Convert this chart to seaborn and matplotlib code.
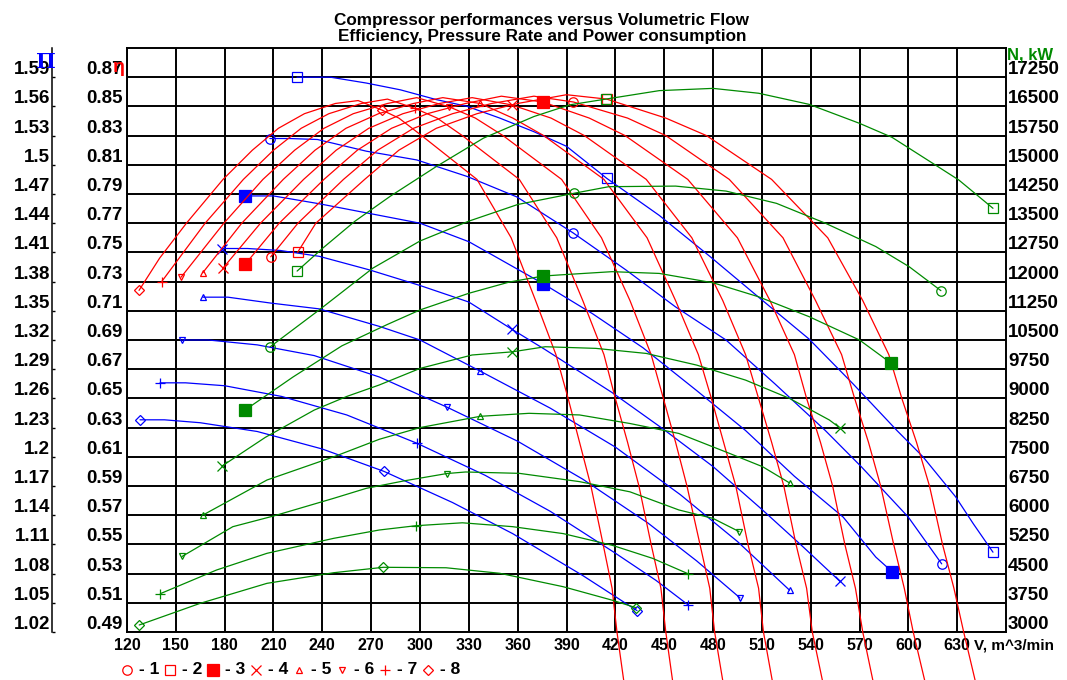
import numpy as np
import pandas as pd
import matplotlib
matplotlib.use("Agg")
import matplotlib.pyplot as plt
from matplotlib.lines import Line2D
import matplotlib.transforms as mtransforms
import seaborn as sns

# ---------------------------------------------------------------- data
CURVE_IDS = [1, 2, 3, 4, 5, 6, 7, 8]
DESIGN_V = [394.2, 414.7, 375.5, 356.5, 337.0, 317.0, 297.5, 277.2]

# Pressure ratio (blue)
PI_V1 = [207.8, 220, 237, 267, 298, 329, 359.5, 394.1, 426.5, 457, 488, 518, 549, 571, 600, 620.5]
PI_1 = [1.527, 1.527, 1.526, 1.514, 1.505, 1.488, 1.467, 1.430, 1.392, 1.354, 1.320, 1.275, 1.227, 1.190, 1.138, 1.090]
PI_V2 = [224.4, 245, 267, 288, 310, 329, 349, 370, 390, 414.8, 447, 478, 508, 539, 566, 593, 609, 629, 640, 652]
PI_2 = [1.590, 1.590, 1.584, 1.577, 1.567, 1.560, 1.548, 1.534, 1.519, 1.486, 1.448, 1.406, 1.364, 1.321, 1.275, 1.227, 1.200, 1.159, 1.131, 1.102]
PI_V3 = [192.5, 210, 238, 269, 300, 330, 375.5, 406, 437, 470, 500, 530, 560, 580, 590]
PI_3 = [1.468, 1.468, 1.460, 1.450, 1.440, 1.421, 1.378, 1.347, 1.312, 1.268, 1.227, 1.180, 1.138, 1.097, 1.082]
PI_V4 = [178.4, 194, 214, 238, 269, 300, 330, 356.5, 377, 418, 449, 480, 510, 535, 558]
PI_4 = [1.414, 1.414, 1.412, 1.406, 1.392, 1.376, 1.359, 1.331, 1.310, 1.266, 1.229, 1.190, 1.146, 1.108, 1.072]
PI_V5 = [166.7, 182, 208, 238, 275, 300, 337, 380, 420, 460, 495, 527]
PI_5 = [1.364, 1.364, 1.358, 1.352, 1.334, 1.320, 1.288, 1.250, 1.210, 1.161, 1.113, 1.063]
PI_V6 = [153.8, 170, 200, 235, 275, 316.6, 360, 400, 440, 470, 496.6]
PI_6 = [1.320, 1.320, 1.315, 1.304, 1.282, 1.251, 1.216, 1.177, 1.132, 1.093, 1.055]
PI_V7 = [140.3, 156, 180, 215, 255, 298, 340, 380, 420, 445, 464.6]
PI_7 = [1.276, 1.276, 1.273, 1.262, 1.243, 1.214, 1.181, 1.144, 1.101, 1.073, 1.048]
PI_V8 = [128, 143, 165, 200, 240, 277.9, 320, 357, 400, 433.3]
PI_8 = [1.238, 1.238, 1.235, 1.226, 1.208, 1.185, 1.153, 1.121, 1.078, 1.042]

# Efficiency (red)
EF_V1 = [208.3, 225, 253, 274, 296, 320, 344, 370, 394.3, 427.5, 451, 490, 523, 543, 559, 567, 575.5, 583, 591, 597.5, 603, 611.5]
EF_1 = [0.747, 0.77, 0.80, 0.82, 0.835, 0.845, 0.852, 0.857, 0.853, 0.842, 0.83, 0.80, 0.76, 0.717, 0.68, 0.65, 0.62, 0.59, 0.55, 0.52, 0.49, 0.45]
EF_V2 = [224.8, 236, 266, 287, 310, 335, 360, 390, 414.7, 451, 476, 516, 550.5, 572, 588, 596, 605, 613, 621, 628, 634, 642.5]
EF_2 = [0.750, 0.77, 0.80, 0.82, 0.835, 0.845, 0.852, 0.858, 0.855, 0.842, 0.83, 0.80, 0.76, 0.717, 0.68, 0.65, 0.62, 0.59, 0.55, 0.52, 0.49, 0.45]
EF_V3 = [192.7, 213.5, 241, 261.5, 282.5, 304.5, 328, 350, 375.5, 404, 426, 464.5, 495, 515, 530, 537.5, 546, 553.5, 561, 567.5, 572, 579.5]
EF_3 = [0.742, 0.77, 0.80, 0.82, 0.835, 0.845, 0.852, 0.857, 0.853, 0.842, 0.83, 0.80, 0.76, 0.717, 0.68, 0.65, 0.62, 0.59, 0.55, 0.52, 0.49, 0.45]
EF_V4 = [178.8, 202, 228.5, 248.5, 268.5, 289.5, 312, 332, 356.4, 380.5, 401, 439, 467, 486, 500, 508, 516, 523.5, 531, 537.5, 541, 548.5]
EF_4 = [0.739, 0.77, 0.80, 0.82, 0.835, 0.845, 0.852, 0.856, 0.851, 0.842, 0.83, 0.80, 0.76, 0.717, 0.68, 0.65, 0.62, 0.59, 0.55, 0.52, 0.49, 0.45]
EF_V5 = [166.5, 190.5, 216, 235.5, 254.5, 274.5, 296, 314, 337, 357, 376, 413, 439.5, 457, 471, 479, 486.5, 494, 501.5, 508, 511, 517.5]
EF_5 = [0.736, 0.77, 0.80, 0.82, 0.835, 0.845, 0.852, 0.856, 0.852, 0.842, 0.83, 0.80, 0.76, 0.717, 0.68, 0.65, 0.62, 0.59, 0.55, 0.52, 0.49, 0.45]
EF_V6 = [153.2, 179.5, 203.5, 223, 241, 259, 280, 298, 318, 334, 351, 387, 411.5, 429, 442, 449.5, 457, 464, 472, 478, 481, 487]
EF_6 = [0.733, 0.77, 0.80, 0.82, 0.835, 0.845, 0.852, 0.856, 0.8497, 0.842, 0.83, 0.80, 0.76, 0.717, 0.68, 0.65, 0.62, 0.59, 0.55, 0.52, 0.49, 0.45]
EF_V7 = [141.3, 168, 191.5, 210, 227, 244, 264, 280, 297, 310.5, 326, 361, 384, 400, 413, 420, 427.5, 434.5, 442, 448, 451, 456]
EF_7 = [0.730, 0.77, 0.80, 0.82, 0.835, 0.845, 0.852, 0.855, 0.8486, 0.842, 0.83, 0.80, 0.76, 0.717, 0.68, 0.65, 0.62, 0.59, 0.55, 0.52, 0.49, 0.45]
EF_V8 = [127.4, 140, 156.5, 179, 197, 213, 229, 248, 262, 276.6, 287, 301, 335, 356, 371, 383.5, 391, 398, 405, 412.5, 418, 421, 426]
EF_8 = [0.724, 0.746, 0.77, 0.80, 0.82, 0.835, 0.845, 0.852, 0.854, 0.8475, 0.842, 0.83, 0.80, 0.76, 0.717, 0.68, 0.65, 0.62, 0.59, 0.55, 0.52, 0.49, 0.45]

# Power consumption (green)
N_V1 = [207.8, 238, 271, 300, 330, 360, 394.5, 416, 457, 488, 519, 549, 580, 600.5, 620]
N_1 = [10320, 11270, 12345, 13043, 13553, 13980, 14268, 14438, 14453, 14325, 14010, 13500, 12900, 12383, 11768]
N_V2 = [224.5, 240, 260, 282, 310, 339, 370, 392, 414.5, 447, 480, 508, 539, 570, 590, 615, 631, 652]
N_2 = [12270, 12850, 13550, 14200, 14955, 15685, 16240, 16540, 16690, 16905, 16963, 16838, 16553, 16065, 15705, 15038, 14610, 13883]
N_V3 = [192.5, 222, 252, 280, 300, 330, 355, 375.5, 386, 418, 447, 480, 508, 539, 570, 589.3]
N_3 = [8700, 9550, 10350, 10900, 11272, 11700, 11990, 12142, 12172, 12255, 12210, 11970, 11610, 11100, 10500, 9908]
N_V4 = [178.4, 205, 235, 255, 275, 300, 332, 356.5, 377, 408, 439, 470, 500, 527, 551.5, 558]
N_4 = [7263, 8000, 8700, 9050, 9345, 9770, 10115, 10195, 10327, 10285, 10155, 9855, 9470, 9000, 8445, 8240]
N_V5 = [166.7, 206, 247, 275, 300, 337, 367, 398, 429, 459, 490, 510.5, 527]
N_5 = [6005, 6904, 7500, 7950, 8250, 8540, 8617, 8575, 8355, 8100, 7590, 7245, 6830]
N_V6 = [153.8, 185, 210, 247, 267, 290, 316.5, 328, 361, 398, 429, 459, 480, 496]
N_6 = [4940, 5705, 5979, 6434, 6690, 6880, 7070, 7110, 7075, 6862, 6600, 6135, 5918, 5580]
N_V7 = [140.5, 175, 206, 247, 275, 297.5, 326, 357, 388, 418, 443, 464.5]
N_7 = [3985, 4592, 5021, 5406, 5620, 5730, 5805, 5705, 5527, 5228, 4890, 4500]
N_V8 = [127.5, 165, 206, 247, 277.5, 316, 349, 388, 418, 433]
N_8 = [3180, 3737, 4250, 4523, 4662, 4650, 4508, 4163, 3818, 3620]

# Axis ticks / labels
X_TICKS = [120, 150, 180, 210, 240, 270, 300, 330, 360, 390, 420, 450, 480, 510, 540, 570, 600, 630]
PI_TICKS = [1.02, 1.05, 1.08, 1.11, 1.14, 1.17, 1.20, 1.23, 1.26, 1.29, 1.32, 1.35, 1.38, 1.41, 1.44, 1.47, 1.50, 1.53, 1.56, 1.59]
EF_TICKS = [0.49, 0.51, 0.53, 0.55, 0.57, 0.59, 0.61, 0.63, 0.65, 0.67, 0.69, 0.71, 0.73, 0.75, 0.77, 0.79, 0.81, 0.83, 0.85, 0.87]
N_TICKS = [3000, 3750, 4500, 5250, 6000, 6750, 7500, 8250, 9000, 9750, 10500, 11250, 12000, 12750, 13500, 14250, 15000, 15750, 16500, 17250]
LEGEND_LABELS = ["- 1", "- 2", "- 3", "- 4", "- 5", "- 6", "- 7", "- 8"]
TITLE_1 = "Compressor performances versus Volumetric Flow"
TITLE_2 = "Efficiency, Pressure Rate and Power consumption"

# ---------------------------------------------------------------- style
BLUE, RED, GREEN = "#0000ff", "#ff0000", "#008a00"
MARKERS = ["o", "s", "s", "x", "^", "v", "+", "D"]
FILLED = [False, False, True, False, False, False, False, False]
MSIZE = [6.8, 7.0, 8.0, 6.5, 5.0, 5.0, 7.0, 5.5]
FS_Y = 13.5
FS_X = 11.5

sns.set_theme(style="white")
plt.rcParams["font.family"] = ["Liberation Sans", "DejaVu Sans"]
plt.rcParams["font.weight"] = "bold"

W, H = 1067, 680
L, R, B, T = 127, 1006, 632, 48
fig = plt.figure(figsize=(W / 100, H / 100), dpi=100)
fig.patch.set_facecolor("white")
ax = fig.add_axes([L / W, 1 - B / H, (R - L) / W, (B - T) / H])


def long_df(vs, ys, name):
    rows = []
    for cid, v, y in zip(CURVE_IDS, vs, ys):
        for a, b in zip(v, y):
            rows.append((cid, a, b))
    return pd.DataFrame(rows, columns=["curve", "V", name])


PI_V = [PI_V1, PI_V2, PI_V3, PI_V4, PI_V5, PI_V6, PI_V7, PI_V8]
PI_Y = [PI_1, PI_2, PI_3, PI_4, PI_5, PI_6, PI_7, PI_8]
EF_V = [EF_V1, EF_V2, EF_V3, EF_V4, EF_V5, EF_V6, EF_V7, EF_V8]
EF_Y = [EF_1, EF_2, EF_3, EF_4, EF_5, EF_6, EF_7, EF_8]
N_V = [N_V1, N_V2, N_V3, N_V4, N_V5, N_V6, N_V7, N_V8]
N_Y = [N_1, N_2, N_3, N_4, N_5, N_6, N_7, N_8]

df_pi = long_df(PI_V, PI_Y, "PI")
df_ef = long_df(EF_V, EF_Y, "EF")
df_n = long_df(N_V, N_Y, "N")

# main axes: pressure ratio + grid
ax.set_xlim(120, 660)
ax.set_ylim(1.02, 1.62)
ax.set_xticks(X_TICKS)
ax.set_xticklabels([str(v) for v in X_TICKS])
ax.set_yticks(PI_TICKS)
ax.grid(True, color="black", linewidth=1.4)
ax.set_axisbelow(True)
ax.tick_params(axis="x", length=0, pad=4.5, labelsize=FS_X, colors="black")
ax.tick_params(axis="y", length=0, labelleft=False, labelright=False)
for s in ax.spines.values():
    s.set_color("black")
    s.set_linewidth(1.4)
    s.set_visible(True)

sns.lineplot(data=df_pi, x="V", y="PI", units="curve", estimator=None, sort=False,
             color=BLUE, linewidth=0.9, ax=ax, legend=False)

# outer left axis line for pressure ratio
ax_o = ax.twinx()
ax_o.set_ylim(1.02, 1.62)
ax_o.yaxis.tick_left()
ax_o.set_yticks(PI_TICKS)
ax_o.tick_params(axis="y", direction="in", length=2.5, width=1.0, color="black",
                 labelleft=False, labelright=False)
for k, s in ax_o.spines.items():
    s.set_visible(k == "left")
ax_o.spines["left"].set_position(("outward", 75 * 0.72))
ax_o.spines["left"].set_color("black")
ax_o.spines["left"].set_linewidth(1.1)

# efficiency axis
ax_e = ax.twinx()
ax_e.set_ylim(0.49, 0.89)
ax_e.set_yticks([])
for s in ax_e.spines.values():
    s.set_visible(False)
sns.lineplot(data=df_ef, x="V", y="EF", units="curve", estimator=None, sort=False,
             color=RED, linewidth=0.9, ax=ax_e, legend=False, clip_on=False)

# power axis
ax_n = ax.twinx()
ax_n.set_ylim(3000, 18000)
ax_n.set_yticks([])
for s in ax_n.spines.values():
    s.set_visible(False)
sns.lineplot(data=df_n, x="V", y="N", units="curve", estimator=None, sort=False,
             color=GREEN, linewidth=0.9, ax=ax_n, legend=False)

for a in (ax, ax_o, ax_e, ax_n):
    a.set_xlabel("")
    a.set_ylabel("")
ax.set_xlim(120, 660)


def mid_index(v, target):
    return int(np.argmin(np.abs(np.asarray(v) - target)))


def draw_markers(axis, vs, ys, color, with_end):
    for i in range(8):
        v = np.asarray(vs[i], dtype=float)
        y = np.asarray(ys[i], dtype=float)
        idx = [0, mid_index(v, DESIGN_V[i])]
        if with_end:
            idx.append(len(v) - 1)
        axis.plot(v[idx], y[idx], ls="none", marker=MARKERS[i], ms=MSIZE[i],
                  mfc=color if FILLED[i] else "none", mec=color, mew=0.9,
                  clip_on=False, zorder=6)


draw_markers(ax, PI_V, PI_Y, BLUE, True)
draw_markers(ax_e, EF_V, EF_Y, RED, False)
draw_markers(ax_n, N_V, N_Y, GREEN, True)


# tick labels (sit just above their ticks, as in the reference)
def axis_labels(axis, values, texts, x_axes, dx_px, ha):
    tr = mtransforms.blended_transform_factory(axis.transAxes, axis.transData)
    tr = tr + mtransforms.ScaledTranslation(dx_px / 100, 3 / 100, fig.dpi_scale_trans)
    for v, t in zip(values, texts):
        axis.text(x_axes, v, t, transform=tr, ha=ha, va="baseline", fontsize=FS_Y,
                  fontweight="bold", color="black", clip_on=False)


axis_labels(ax, PI_TICKS, [f"{v:g}" for v in PI_TICKS], 0, -77, "right")
axis_labels(ax_e, EF_TICKS, [f"{v:.2f}" for v in EF_TICKS], 0, -4, "right")
axis_labels(ax_n, N_TICKS, [str(v) for v in N_TICKS], 1, 2, "left")

# x axis unit text
trx = mtransforms.blended_transform_factory(ax.transData, ax.transAxes)
trx = trx + mtransforms.ScaledTranslation(0, -6 / 100, fig.dpi_scale_trans)
ax.text(640.5, 0, "V, m^3/min", transform=trx, ha="left", va="top", fontsize=11,
        fontweight="bold", color="black")

# axis symbols
fig.text(46 / W, 1 - 62 / H, "Π", color=BLUE, fontsize=15, fontweight="bold",
         family=["DejaVu Serif", "DejaVu Sans"], ha="center", va="center")
fig.text(119 / W, 1 - 67 / H, "η", color=RED, fontsize=14, fontweight="bold",
         ha="center", va="center")
fig.text(1007 / W, 1 - 55 / H, "N, kW", color=GREEN, fontsize=12, fontweight="bold",
         ha="left", va="center")

# title
fig.text(542 / W, 1 - 21 / H, TITLE_1, ha="center", va="center", fontsize=12.3,
         fontweight="bold", color="black")
fig.text(542 / W, 1 - 37 / H, TITLE_2, ha="center", va="center", fontsize=12.3,
         fontweight="bold", color="black")

# bottom legend
LEG_X0, LEG_DX, LEG_Y = 127, 43, 670
for i, lab in enumerate(LEGEND_LABELS):
    xm = (LEG_X0 + i * LEG_DX) / W
    ym = 1 - LEG_Y / H
    fig.add_artist(Line2D([xm], [ym], transform=fig.transFigure, ls="none",
                          marker=MARKERS[i], ms=MSIZE[i], mec=RED,
                          mfc=RED if FILLED[i] else "none", mew=0.9))
    fig.text(xm + 12 / W, ym, lab, ha="left", va="center", fontsize=12.5,
             fontweight="bold", color="black")

fig.savefig("out.png", dpi=100, facecolor="white")
